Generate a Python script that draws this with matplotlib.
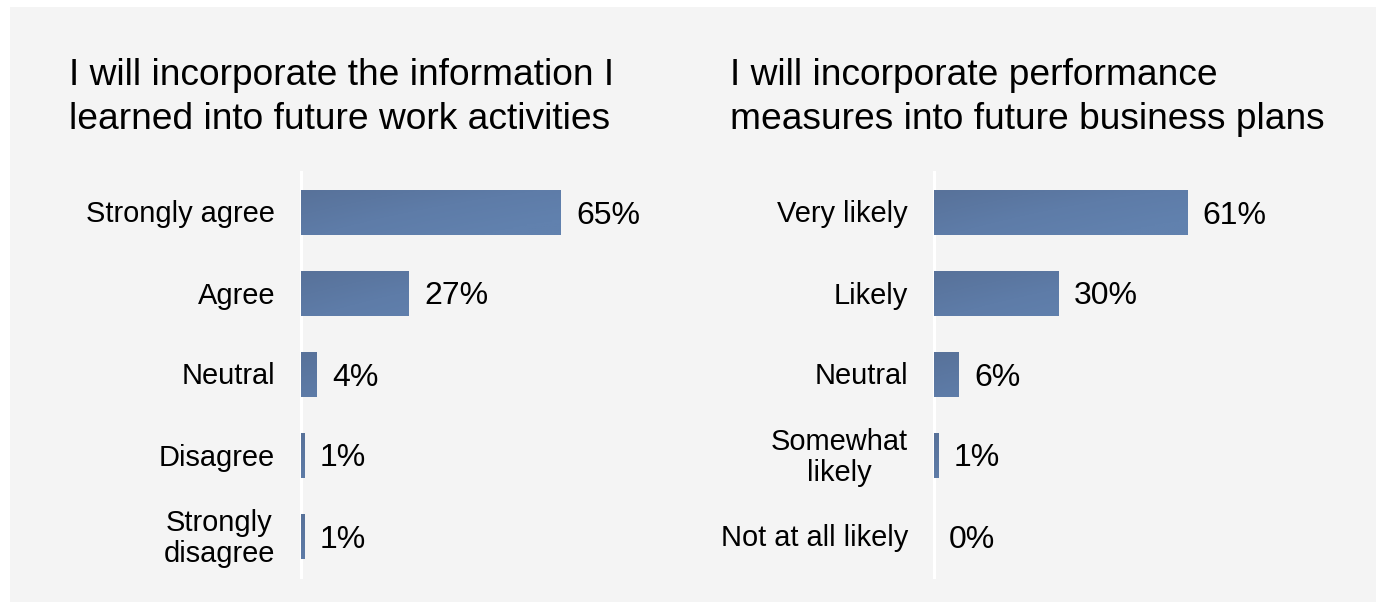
import matplotlib
matplotlib.use("Agg")
import matplotlib.pyplot as plt
import numpy as np
from matplotlib.patches import Rectangle
from matplotlib.colors import LinearSegmentedColormap
from matplotlib.transforms import blended_transform_factory, offset_copy

plt.rcParams['font.family'] = ['Liberation Sans', 'DejaVu Sans']

# Survey results
left_title = "I will incorporate the information I\nlearned into future work activities"
left_categories = ["Strongly agree", "Agree", "Neutral", "Disagree", "Strongly\ndisagree"]
left_values = [65, 27, 4, 1, 1]

right_title = "I will incorporate performance\nmeasures into future business plans"
right_categories = ["Very likely", "Likely", "Neutral", "Somewhat\nlikely", "Not at all likely"]
right_values = [61, 30, 6, 1, 0]

W, H = 1376, 602
fig = plt.figure(figsize=(W / 100, H / 100), dpi=100)
fig.patch.set_facecolor("white")

# light grey panel behind everything
fig.add_artist(Rectangle((10 / W, 0), 1 - 10 / W, (H - 7) / H,
                         transform=fig.transFigure, facecolor="#f4f4f4",
                         edgecolor="none", zorder=0))

bar_cmap = LinearSegmentedColormap.from_list("bar", ["#58729a", "#5e7ca8", "#6181ae"])


def px_axes(x0, x1, y0, y1):
    return fig.add_axes([x0 / W, 1 - y1 / H, (x1 - x0) / W, (y1 - y0) / H])


def draw_panel(ax, categories, values, xmax, title, title_x, label_right):
    ax.set_facecolor("none")
    y = np.arange(len(categories))
    bars = ax.barh(y, values, height=0.555, color="#5f7dab", zorder=2)
    # soft shading: darker toward the top-left corner of each bar
    gx, gy = np.meshgrid(np.linspace(0, 1, 128), np.linspace(0, 1, 32))
    grad = np.clip(0.55 * gx + 0.45 * gy + 0.25 * gx * gy, 0, 1)
    for b in bars:
        if b.get_width() <= 0:
            continue
        x0, y0 = b.get_x(), b.get_y()
        w, h = b.get_width(), b.get_height()
        im = ax.imshow(grad, cmap=bar_cmap, aspect="auto", origin="upper",
                       extent=[x0, x0 + max(w, 60), y0 + h, y0], zorder=3,
                       interpolation="bilinear")
        im.set_clip_path(b)
    ax.set_xlim(0, xmax)
    ax.set_ylim(len(categories) - 0.5, -0.5)
    ax.set_yticks([])
    ax.set_xticks([])
    for s in ["top", "right", "bottom"]:
        ax.spines[s].set_visible(False)
    ax.spines["left"].set_color("white")
    ax.spines["left"].set_linewidth(2.2)

    # value labels just past the end of each bar
    val_tr = offset_copy(ax.transData, fig=fig, x=15, y=-3, units="dots")
    for yi, v in zip(y, values):
        ax.text(v, yi, f"{v}%", transform=val_tr, ha="left", va="center",
                fontsize=23, color="black", zorder=4)

    # category labels, right-aligned left of the axis line
    tr = offset_copy(blended_transform_factory(fig.transFigure, ax.transData),
                     fig=fig, x=0, y=-2, units="dots")
    for yi, c in zip(y, categories):
        ax.text(label_right / W, yi, c, transform=tr, ha="right", va="center",
                fontsize=20.9, linespacing=1.12, multialignment="center",
                color="black")

    fig.text(title_x / W, 1 - 58 / H, title, fontsize=26.7, ha="left", va="top",
             linespacing=1.32, color="black")


axL = px_axes(301, 680, 172, 577)
draw_panel(axL, left_categories, left_values, (680 - 301) / 4.0, left_title, 69, 275)
axR = px_axes(934, 1330, 172, 577)
draw_panel(axR, right_categories, right_values, (1330 - 934) / 4.15, right_title, 730, 908)

fig.savefig("out.png", dpi=100, facecolor=fig.get_facecolor())
